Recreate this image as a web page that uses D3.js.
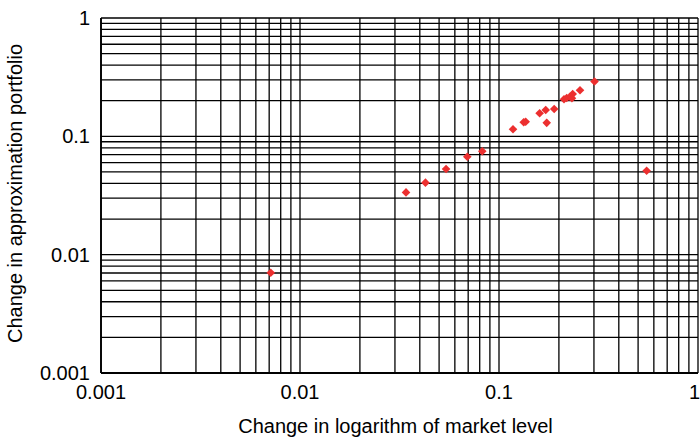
<!DOCTYPE html>
<html>
<head>
<meta charset="utf-8">
<script src="https://cdn.jsdelivr.net/npm/d3@7"></script>
<style>
  html, body { margin: 0; padding: 0; background: #fff; }
  svg { display: block; }
  text { font-family: "Liberation Sans", Arial, Helvetica, sans-serif; fill: #000; }
</style>
</head>
<body>
<svg id="chart" width="700" height="441"></svg>
<script>
// Change in log market level vs. change in approximation portfolio
const marketChange = [0.00713, 0.0341, 0.0427, 0.0542, 0.0693, 0.0824, 0.1176, 0.1331, 0.1362,
  0.160, 0.1717, 0.1737, 0.1894, 0.2122, 0.2189, 0.2274, 0.2346, 0.2326, 0.2553, 0.302, 0.552];
const portfolioChange = [0.00704, 0.0336, 0.0406, 0.0530, 0.0673, 0.0747, 0.1147, 0.1314, 0.1329,
  0.1565, 0.1669, 0.130, 0.1702, 0.2056, 0.2108, 0.2162, 0.2279, 0.2096, 0.2449, 0.2906, 0.0512];
const xTickLabels = ["0.001", "0.01", "0.1", "1"];
const yTickLabels = ["0.001", "0.01", "0.1", "1"];
const xTitle = "Change in logarithm of market level";
const yTitle = "Change in approximation portfolio";

const svg = d3.select("#chart");
const W = 700;
const plotL = 101, plotR = 698, plotT = 18, plotB = 373;
const fs = 20;

const x = d3.scaleLog().domain([0.001, 1]).range([plotL, plotR]);
const y = d3.scaleLog().domain([0.001, 1]).range([plotB, plotT]);

// every 1..9 multiple inside each decade gets a grid line
const gridVals = [];
for (let e = -3; e < 0; e++) {
  for (let m = 1; m <= 9; m++) gridVals.push(m * Math.pow(10, e));
}
gridVals.push(1);

const grid = svg.append("g").attr("stroke", "#000").attr("stroke-width", 1.3);
grid.selectAll("line.v").data(gridVals).join("line")
  .attr("class", "v")
  .attr("x1", d => x(d)).attr("x2", d => x(d))
  .attr("y1", plotT).attr("y2", plotB);
grid.selectAll("line.h").data(gridVals).join("line")
  .attr("class", "h")
  .attr("y1", d => y(d)).attr("y2", d => y(d))
  .attr("x1", plotL).attr("x2", plotR);

// frame
svg.append("line").attr("x1", plotL).attr("x2", plotR).attr("y1", plotB).attr("y2", plotB)
  .attr("stroke", "#000").attr("stroke-width", 2);
svg.append("line").attr("x1", plotL).attr("x2", plotL).attr("y1", plotT).attr("y2", plotB)
  .attr("stroke", "#000").attr("stroke-width", 1.8);

// tick labels; the last x label is kept inside the page edge
const xt = xTickLabels.map(Number);
svg.append("g").selectAll("text").data(xt).join("text")
  .attr("font-size", fs)
  .text((d, i) => xTickLabels[i])
  .attr("y", 399)
  .attr("text-anchor", "middle")
  .attr("x", function (d) {
    const half = this.getComputedTextLength() / 2;
    return Math.min(x(d), W - half);
  });

const yt = yTickLabels.map(Number);
svg.append("g").selectAll("text").data(yt).join("text")
  .attr("x", 90).attr("y", d => y(d) + 7)
  .attr("text-anchor", "end")
  .attr("font-size", fs)
  .text((d, i) => yTickLabels[i]);

// axis titles
svg.append("text")
  .attr("x", (plotL + plotR) / 2 - 4).attr("y", 433)
  .attr("text-anchor", "middle").attr("font-size", fs)
  .text(xTitle);
svg.append("text")
  .attr("transform", `translate(22,${(plotT + plotB) / 2 - 2}) rotate(-90)`)
  .attr("text-anchor", "middle").attr("font-size", fs)
  .text(yTitle);

// data points as diamonds
const pts = marketChange.map((v, i) => [v, portfolioChange[i]]);
const r = 4.3;
svg.append("g").selectAll("path").data(pts).join("path")
  .attr("d", d => {
    const cx = x(d[0]), cy = y(d[1]);
    return `M${cx},${cy - r}L${cx + r},${cy}L${cx},${cy + r}L${cx - r},${cy}Z`;
  })
  .attr("fill", "#ec2f2f");
</script>
</body>
</html>
